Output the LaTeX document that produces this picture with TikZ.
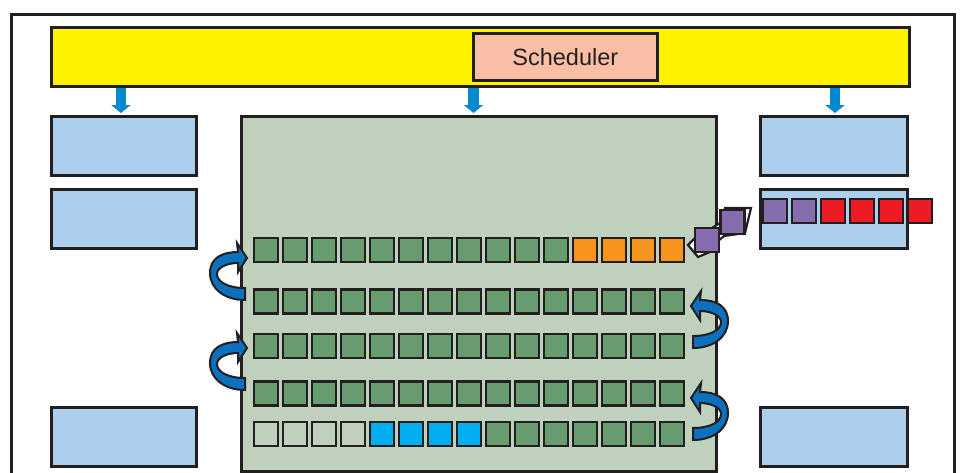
\documentclass[tikz,border=0pt]{standalone}
\usepackage{fontspec}
\setmainfont{Liberation Sans}
\usetikzlibrary{arrows.meta}
\definecolor{ink}{HTML}{231F20}
\definecolor{ybar}{HTML}{FFF200}
\definecolor{sched}{HTML}{FBBFA6}
\definecolor{lblue}{HTML}{ABCFEC}
\definecolor{gbox}{HTML}{BFD0BD}
\definecolor{gsq}{HTML}{679C6E}
\definecolor{osq}{HTML}{F7941D}
\definecolor{csq}{HTML}{00AEEF}
\definecolor{psq}{HTML}{876CAE}
\definecolor{rsq}{HTML}{ED1C24}
\definecolor{darr}{HTML}{0089D0}
\definecolor{rib}{HTML}{0B70BD}
\begin{document}
\begin{tikzpicture}[x=1pt,y=-1pt,
  box/.style={draw=ink, line width=2.6pt, inner sep=0pt, anchor=north west},
  sq/.style={draw=ink, line width=2.6pt, inner sep=0pt, minimum size=24pt},
  downarr/.style={draw=darr, line width=10.5pt, -{Triangle[width=19pt,length=8pt]}},
  ribbonstyle/.style={fill=rib, draw=ink, line width=2pt, line join=miter},
  ribbon/.pic={\path[ribbonstyle] (-2,42) .. controls (-22,42) and (-37,31) .. (-37,15)
     .. controls (-37,0) and (-25,-6) .. (-9,-6) -- (-10,-15) -- (0,0) -- (-9,14) -- (-9,5)
     .. controls (-21,5) and (-30,10) .. (-30,16) .. controls (-30,24) and (-19,30) .. (-2,30) -- cycle;}
]
\useasboundingbox (0,0) rectangle (960,472);
\clip (0,0) rectangle (960,472);
% frame
\node[box, minimum width=943pt, minimum height=480pt] (frame) at (10,13) {};
% scheduler bar
\node[box, fill=ybar, minimum width=858pt, minimum height=59pt] (bar) at (50,26) {};
\node[box, fill=sched, minimum width=184pt, minimum height=47pt, text=ink,
      font=\fontsize{23.5}{28}\selectfont] (sched) at (472,32) {Scheduler};
% side boxes
\node[box, fill=lblue, minimum width=145pt, minimum height=59pt] (lb1) at (50,115) {};
\node[box, fill=lblue, minimum width=145pt, minimum height=59pt] (lb2) at (50,188) {};
\node[box, fill=lblue, minimum width=145pt, minimum height=59pt] (lb3) at (50,406) {};
\node[box, fill=lblue, minimum width=147pt, minimum height=59pt] (rb1) at (759,115) {};
\node[box, fill=lblue, minimum width=147pt, minimum height=59pt] (rb2) at (759,188) {};
\node[box, fill=lblue, minimum width=147pt, minimum height=59pt] (rb3) at (759,406) {};
% central box
\node[box, fill=gbox, minimum width=475pt, minimum height=355pt] (gb) at (240,115) {};
% rows of squares
\foreach \c in {1,...,11} \node[sq, fill=gsq] (r1c\c) at ({266+29*(\c-1)},250) {};
\foreach \c in {12,...,15} \node[sq, fill=osq] (r1c\c) at ({266+29*(\c-1)},250) {};
\foreach \r/\y in {2/301.5,3/346,4/393.5}
  \foreach \c in {1,...,15} \node[sq, fill=gsq] (r\r c\c) at ({266+29*(\c-1)},\y) {};
\foreach \c in {1,...,4} \node[sq, fill=gbox] (r5c\c) at ({266+29*(\c-1)},434) {};
\foreach \c in {5,...,8} \node[sq, fill=csq] (r5c\c) at ({266+29*(\c-1)},434) {};
\foreach \c in {9,...,15} \node[sq, fill=gsq] (r5c\c) at ({266+29*(\c-1)},434) {};
% queue in right box
\foreach \c/\col in {1/psq,2/psq,3/rsq,4/rsq,5/rsq,6/rsq}
  \node[sq, fill=\col] (q\c) at ({775+29*(\c-1)},211) {};
% flying squares with motion trail
\filldraw[fill=white, draw=ink, line width=2.2pt, line join=miter]
  (688,245) -- (698,257) -- (710,252) -- (718,241) -- (724,236) -- (745,233) -- (751,208)
  -- (725,208) -- (720,223) -- (712,228) -- (695,238) -- cycle;
\node[sq, fill=psq] (fa) at (707,240) {};
\node[sq, fill=psq] (fb) at (732.5,222) {};
% ribbon arrows
\pic at (247,258) {ribbon};
\pic at (247,348) {ribbon};
\pic[xscale=-1] at (691,306) {ribbon};
\pic[xscale=-1] at (691,398) {ribbon};
% scheduler arrows
\coordinate (t1) at (121,113);
\coordinate (t2) at (473.5,113);
\coordinate (t3) at (835,113);
\draw[downarr] (bar.south -| t1) -- (t1);
\draw[downarr] (bar.south -| t2) -- (t2);
\draw[downarr] (bar.south -| t3) -- (t3);
\end{tikzpicture}
\end{document}
